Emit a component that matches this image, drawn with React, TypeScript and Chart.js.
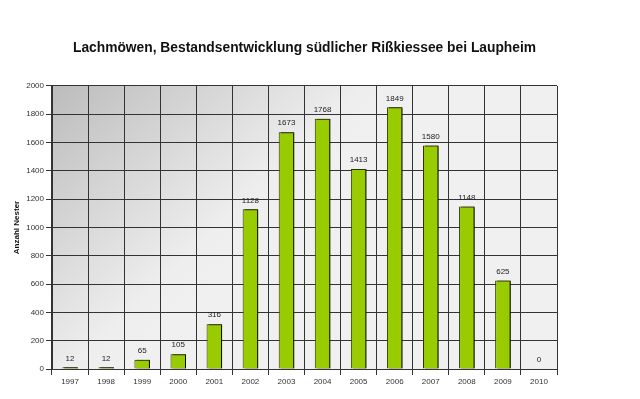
import React, { useEffect, useRef } from "react";
import { Chart, registerables } from "chart.js";

Chart.register(...registerables);

const years = ["1997", "1998", "1999", "2000", "2001", "2002", "2003", "2004", "2005", "2006", "2007", "2008", "2009", "2010"];
const nests = [12, 12, 65, 105, 316, 1128, 1673, 1768, 1413, 1849, 1580, 1148, 625, 0];
const chartTitle = "Lachmöwen, Bestandsentwicklung südlicher Rißkiessee bei Laupheim";
const yTitle = "Anzahl Nester";

const bgPlugin = {
  id: "bgGradient",
  beforeDraw(chart: any) {
    const { ctx, chartArea: a } = chart;
    const w = a.right - a.left;
    const h = a.bottom - a.top;
    const g = ctx.createLinearGradient(a.left, a.top, a.left + 0.35 * w, a.top + 0.65 * h);
    g.addColorStop(0, "#bcbcbc");
    g.addColorStop(0.85, "#eeeeee");
    g.addColorStop(1, "#f0f0f0");
    ctx.save();
    ctx.fillStyle = g;
    ctx.fillRect(a.left, a.top, w, h);
    ctx.restore();
  },
};

const shadowPlugin = {
  id: "barShadow",
  beforeDatasetsDraw(chart: any) {
    const ctx = chart.ctx;
    ctx.save();
    ctx.shadowColor = "rgba(0,0,0,0.95)";
    ctx.shadowOffsetX = 2;
    ctx.shadowOffsetY = 0;
    ctx.shadowBlur = 0;
  },
  afterDatasetsDraw(chart: any) {
    const ctx = chart.ctx;
    ctx.restore();
    const meta = chart.getDatasetMeta(0);
    const data = chart.data.datasets[0].data;
    ctx.save();
    ctx.font = "8px 'Liberation Sans', Arial, sans-serif";
    ctx.fillStyle = "#222";
    ctx.textAlign = "center";
    ctx.textBaseline = "middle";
    meta.data.forEach((el: any, i: number) => {
      ctx.fillText(String(data[i]), el.x, el.y - 9);
    });
    ctx.restore();
  },
};

export default function App() {
  const ref = useRef<HTMLCanvasElement | null>(null);
  useEffect(() => {
    if (!ref.current) return;
    const chart = new Chart(ref.current, {
      type: "bar",
      data: {
        labels: years,
        datasets: [
          {
            data: nests,
            backgroundColor: "#99cc00",
            borderColor: "#2a3300",
            borderWidth: 1,
            borderSkipped: "bottom",
            barPercentage: 0.43,
            categoryPercentage: 1,
          },
        ],
      },
      options: {
        animation: false,
        responsive: true,
        maintainAspectRatio: false,
        layout: { padding: { left: 0, right: 83, top: 0, bottom: 0 } },
        plugins: {
          legend: { display: false },
          tooltip: { enabled: false },
          title: {
            display: true,
            text: chartTitle,
            fullSize: false,
            color: "#111",
            font: { family: "'Liberation Sans', Arial, sans-serif", size: 13.8, weight: "bold" },
            padding: { top: 40, bottom: 29.4 },
          },
        },
        scales: {
          x: {
            offset: true,
            grid: { display: true, offset: true, color: "#333", lineWidth: 1, tickLength: 6, drawTicks: true },
            border: { display: true, color: "#333" },
            ticks: { color: "#333", font: { family: "'Liberation Sans', Arial, sans-serif", size: 8 }, padding: 2, maxRotation: 0 },
            afterFit(scale: any) {
              scale.height = 30;
            },
          },
          y: {
            min: 0,
            max: 2000,
            grid: { color: "#333", lineWidth: 1, tickLength: 6 },
            border: { display: true, color: "#333" },
            ticks: {
              stepSize: 200,
              color: "#333",
              padding: 2,
              font: { family: "'Liberation Sans', Arial, sans-serif", size: 8 },
              callback: (v: any) => String(v),
            },
            title: {
              display: true,
              text: yTitle,
              color: "#111",
              font: { family: "'Liberation Sans', Arial, sans-serif", size: 8, weight: "bold" },
              padding: { top: 12, bottom: 0 },
            },
            afterFit(scale: any) {
              scale.width = 52;
            },
          },
        },
      },
      plugins: [bgPlugin, shadowPlugin],
    });
    return () => chart.destroy();
  }, []);
  return (
    <div style={{ position: "fixed", left: 0, top: 0, width: 640, height: 399, background: "#fff" }}>
      <canvas ref={ref} />
    </div>
  );
}
